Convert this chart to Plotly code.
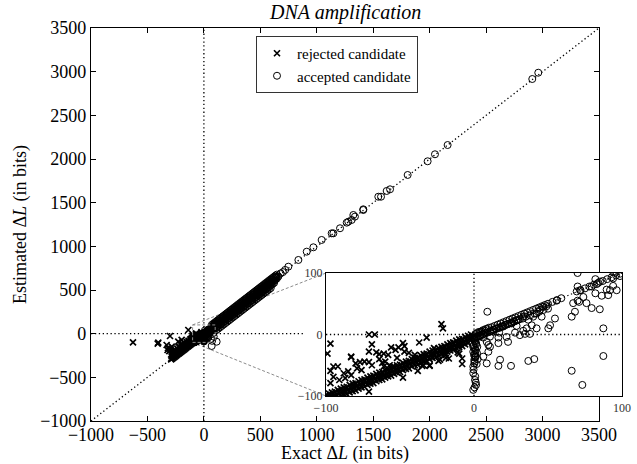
import plotly.graph_objects as go

# ---------------- data ----------------
# rejected candidates (x markers)
rej_main_x = [-628, -404, -409, -300, -138, -330, -322, -285, -227, -197, -318, -306, -296, -280, -262,
              -248, -236, -218, -205, -186, -170, -152, -135, -118, -112]
rej_main_y = [-99, -103, -115, -27, 42, -130, -187, -149, -92, -72, -165, -200, -178, -210, -196,
              -225, -170, -150, -175, -140, -125, -118, -95, -80, -60]

# dense diagonal band of rejected candidates, x < -100
rej_b1_x = [-290, -282, -274, -266, -258, -250, -242, -234, -226, -218, -210, -202, -194, -186, -178,
            -170, -162, -154, -146, -138, -130, -122, -114, -106]
rej_b1_y = [-294, -286, -278, -270, -262, -254, -246, -238, -230, -222, -214, -206, -198, -190, -182,
            -174, -166, -158, -150, -142, -134, -126, -118, -110]
rej_b2_x = [-286, -278, -270, -262, -254, -246, -238, -230, -222, -214, -206, -198, -190, -182, -174,
            -166, -158, -150, -142, -134, -126, -118, -110, -102]
rej_b2_y = [-261, -253, -245, -237, -229, -221, -213, -205, -197, -189, -181, -173, -165, -157, -149,
            -141, -133, -125, -117, -109, -101, -93, -85, -77]
rej_b3_x = [-280, -264, -248, -232, -216, -200, -184, -168, -152, -136, -120, -104]
rej_b3_y = [-225, -209, -193, -177, -161, -145, -129, -113, -97, -81, -65, -49]

# dense diagonal band of rejected candidates, -100 < x < 0
rej_ba_x = [-100, -98, -96, -94, -92, -90, -88, -86, -84, -82, -80, -78, -76, -74, -72, -70, -68, -66,
            -64, -62, -60, -58, -56, -54, -52, -50, -48, -46, -44, -42, -40, -38, -36, -34, -32, -30,
            -28, -26, -24, -22, -20, -18, -16, -14, -12, -10, -8, -6, -4, -2]
rej_ba_y = [-98, -96, -94, -93, -90, -88, -86, -85, -82, -80, -79, -76, -74, -73, -70, -68, -67, -64,
            -62, -61, -58, -56, -55, -52, -50, -49, -46, -44, -43, -40, -38, -37, -34, -32, -31, -28,
            -26, -25, -22, -20, -19, -16, -14, -13, -10, -8, -7, -4, -2, 0]
rej_bb_x = [-99, -97, -95, -93, -91, -89, -87, -85, -83, -81, -79, -77, -75, -73, -71, -69, -67, -65,
            -63, -61, -59, -57, -55, -53, -51, -49, -47, -45, -43, -41, -39, -37, -35, -33, -31, -29,
            -27, -25, -23, -21, -19, -17, -15, -13, -11, -9, -7, -5, -3, -1]
rej_bb_y = [-104, -102, -100, -98, -96, -94, -92, -90, -88, -86, -84, -82, -80, -78, -76, -74, -72, -70,
            -68, -66, -64, -62, -60, -58, -56, -54, -52, -50, -48, -46, -44, -42, -40, -38, -36, -34,
            -32, -30, -28, -26, -24, -22, -20, -18, -16, -14, -12, -10, -8, -5]
rej_bc_x = [-90, -88, -86, -84, -82, -80, -78, -76, -74, -72, -70, -68, -66, -64, -62, -60, -58, -56,
            -54, -52, -50, -48, -46, -44, -42, -40, -38, -36, -34, -32, -30, -28, -26, -24, -22, -20,
            -18, -16, -14, -12, -10, -8, -6, -4]
rej_bc_y = [-100, -98, -97, -94, -92, -91, -88, -86, -85, -82, -80, -79, -76, -74, -73, -70, -68, -67,
            -64, -62, -61, -58, -56, -55, -52, -50, -49, -46, -44, -43, -40, -38, -37, -34, -32, -31,
            -28, -26, -25, -22, -20, -19, -16, -14]

rej_inset_x = [-97, -99, -97, -95, -97, -92, -83, -79, -85, -80, -77, -74, -71, -83, -87, -71, -67, -69,
               -66, -64, -61, -64, -60, -58, -56, -53, -51, -48, -47, -47, -61, -57, -55, -48, -71, -40,
               -37, -32, -38, -34, -30, -23, -22, -21, -20, -19, -19, -17, -14, -11, -10, -8, -8, -10,
               -95, -83, -71, -24, -30, -35, -91, -88, -76, -69, -62, -52, -44, -27]
rej_inset_y = [-15, -31, -59, -69, -79, -52, -36, -55, -60, -47, -45, -44, -45, -66, -71, 0, 0, -16,
               -29, -32, -31, -40, -44, -33, -21, -25, -21, -14, -19, -28, -52, -50, -52, -70, -93, -33,
               -13, -5, -59, -50, -50, -41, 17, 10, -29, -33, -38, -39, -13, -29, -31, -39, -48, -17,
               -52, -37, -28, -43, -51, -51, -74, -63, -58, -50, -46, -38, -30, -22]

# accepted candidates (open circles)
acc_main_x = [748, 837, 911, 970, 1043, 1132, 1147, 1206, 1265, 1279, 1309, 1324, 1338, 1412, 1412,
              1545, 1569, 1619, 1649, 1805, 1982, 2047, 2159, 2909, 2962, 69, 113, 660, 680, 700, 720, 640]
acc_main_y = [767, 844, 939, 989, 1073, 1149, 1149, 1207, 1271, 1282, 1302, 1359, 1340, 1416, 1424,
              1568, 1568, 1634, 1653, 1817, 1974, 2054, 2160, 2916, 2988, -141, -92, 655, 690, 705, 730, 645]

# dense diagonal band of accepted candidates, x > 70
acc_bx = [70, 82, 94, 106, 118, 130, 142, 154, 166, 178, 190, 202, 214, 226, 238, 250, 262, 274, 286,
          298, 310, 322, 334, 346, 358, 370, 382, 394, 406, 418, 430, 442, 454, 466, 478, 490, 502, 514,
          526, 538, 550, 562, 574, 586, 598, 610, 622, 634, 646]
acc_b1_y = [100, 112, 124, 136, 148, 160, 172, 184, 196, 208, 220, 232, 244, 256, 268, 280, 292, 304, 316,
            328, 340, 352, 364, 376, 388, 400, 412, 424, 436, 448, 460, 472, 484, 496, 508, 520, 532, 544,
            556, 568, 580, 592, 604, 616, 628, 640, 652, 664, 676]
acc_b2_y = [78, 90, 102, 114, 126, 138, 150, 162, 174, 186, 198, 210, 222, 234, 246, 258, 270, 282, 294,
            306, 318, 330, 342, 354, 366, 378, 390, 402, 414, 426, 438, 450, 462, 474, 486, 498, 510, 522,
            534, 546, 558, 570, 582, 594, 606, 618, 630, 642, 654]
acc_b3_y = [55, 67, 79, 91, 103, 115, 127, 139, 151, 163, 175, 187, 199, 211, 223, 235, 247, 259, 271,
            283, 295, 307, 319, 331, 343, 355, 367, 379, 391, 403, 415, 427, 439, 451, 463, 475, 487, 499,
            511, 523, 535, 547, 559, 571, 583, 595, 607, 619, 631]
acc_b4_x = [106, 118, 130, 142, 154, 166, 178, 190, 202, 214, 226, 238, 250, 262, 274, 286, 298, 310,
            322, 334, 346, 358, 370, 382, 394, 406, 418, 430, 442, 454, 466, 478, 490, 502, 514, 526,
            538, 550, 562, 574, 586, 598, 610, 622]
acc_b4_y = [66, 78, 90, 102, 114, 126, 138, 150, 162, 174, 186, 198, 210, 222, 234, 246, 258, 270,
            282, 294, 306, 318, 330, 342, 354, 366, 378, 390, 402, 414, 426, 438, 450, 462, 474, 486,
            498, 510, 522, 534, 546, 558, 570, 582]
acc_b5_x = [112, 128, 144, 160, 176, 192, 208, 224, 240, 256, 272, 288, 304, 320, 336, 352, 368, 384,
            400, 416, 432, 448, 464, 480, 496, 512, 528, 544, 560, 576, 592]
acc_b5_y = [42, 58, 74, 90, 106, 122, 138, 154, 170, 186, 202, 218, 234, 250, 266, 282, 298, 314,
            330, 346, 362, 378, 394, 410, 426, 442, 458, 474, 490, 506, 522]

# accepted candidates inside the zoomed region
acc_diag_x = [1, 2, 3, 4, 5, 6, 7, 8, 9, 10, 12, 14, 16, 18, 20, 22, 24, 26, 28, 30, 32, 34, 36, 38, 40,
              42, 44, 46, 48, 50, 53, 56, 59, 72, 75, 78, 81, 84, 87, 90, 93, 96, 99,
              2, 4, 6, 8, 11, 13, 15, 17, 19, 21, 23, 25, 27, 29, 31, 33, 35, 38, 41, 44, 47, 50,
              0, 1.5, 3, 4.5, 6, 7.5, 9, 10.5, 12, 13.5, 15, 16.5, 18, 19.5, 21, 22.5, 24, 25.5, 27,
              28.5, 30]
acc_diag_y = [1, 2, 4, 4, 5, 7, 7, 9, 9, 11, 12, 14, 16, 18, 20, 22, 24, 26, 28, 30, 32, 34, 36, 38, 40,
              42, 44, 46, 48, 50, 53, 56, 59, 72, 75, 78, 81, 84, 87, 90, 93, 96, 99,
              -3, -1, 1, 3, 5, 8, 10, 11, 13, 16, 17, 19, 21, 23, 25, 26, 29, 31, 34, 37, 40, 42,
              -6, -4.5, -3, -1.5, 0, 1.5, 3, 4.5, 6, 7.5, 9, 10.5, 12, 13.5, 15, 16.5, 18, 19.5, 21,
              22.5, 24]

acc_vert_x = [-0.5, 1.4, 0.7, -0.5, -0.5, 0.2, 0.7, -0.5, 1.4, 0.7, 0, 0.5, 1, 0.3, -0.3, 0.8, 1.2, 0.4,
              0.2, 0.8, 1.5, -0.3, 0.5, 1.2, 2, 0, 1, 2.5, 0.3, 1.8, -0.5, 1, 2.2, 0.5]
acc_vert_y = [-90, -82, -74, -63, -52, -41, -31, -20, -14, -25, -5, -10, -35, -47, -57, -68, -78, -86,
              -8, -12, -16, -18, -22, -26, -30, -33, -37, -40, -44, -48, -28, -6, -20, -36]

acc_inset_x = [9, 8.6, 9.7, 10.8, 8.6, 16.5, 25, 36.7, 40.7, 23, 16.5, 17, 27.7, 34.5, 37.8, 35.6, 39,
               36.7, 40, 44.6, 46.8, 42.3, 50.2, 51.4, 54.7, 49, 55.9, 66, 68.2, 67, 71, 73.9, 76, 79.5,
               85, 87.4, 87.4, 66, 73.2, 69.4, 71.6, 79.5, 82.9, 85.1, 89.6, 91.9, 96.4, 90.7, 86.3, 94,
               98.6, 16.5, 22, 31, 33.3, 28.8, 25.5, 19.8, 13, 6.3, 10.8, 42.3, 45.7, 33.3, 17.6, 6.3,
               9.7, 4]
acc_inset_y = [37, -47, -28, -20, -12, -51, -51, -43, -40, -12, -5, 3, 3, 1, 1, 10, 15, 24, 29, 40, 45,
               34, 10, 15, 26, 46, 55, 29, 37, 51, 53, 61, 51, 43, 41, 10, -35, -59, -82, 70, 72, 78, 82,
               86, 73, 72, 72, 64, 63, 91, 95, -14, -4, -1, 6, 14, 18, 13, 4.5, -5, -3.5, 10, 29, 29,
               -41, -36, -17, -3.5]

rej_x = (rej_main_x + rej_b1_x + rej_b2_x + rej_b3_x + rej_ba_x + rej_bb_x + rej_bc_x + rej_inset_x)
rej_y = (rej_main_y + rej_b1_y + rej_b2_y + rej_b3_y + rej_ba_y + rej_bb_y + rej_bc_y + rej_inset_y)
acc_x = (acc_main_x + acc_bx + acc_bx + acc_bx + acc_b4_x + acc_b5_x + acc_diag_x + acc_vert_x
         + acc_inset_x)
acc_y = (acc_main_y + acc_b1_y + acc_b2_y + acc_b3_y + acc_b4_y + acc_b5_y + acc_diag_y + acc_vert_y
         + acc_inset_y)

main_range = [-1000, 3500]
inset_range = [-100, 100]
main_ticks = [-1000, -500, 0, 500, 1000, 1500, 2000, 2500, 3000, 3500]
inset_ticks = [-100, 0, 100]

title_text = "<i>DNA amplification</i>"
xlabel = "Exact Δ<i>L</i> (in bits)"
ylabel = "Estimated Δ<i>L</i> (in bits)"

# ---------------- layout geometry ----------------
W, H = 637, 464
L, R, T, B = 91, 15, 28, 43
pw = W - L - R
ph = H - T - B
main_dom_x = [0, (599 - L) / pw]
main_dom_y = [0, 1]
inset_dom_x = [(326 - L) / pw, 1]
inset_dom_y = [(H - B - 396) / ph, (H - B - 273) / ph]

FONT = "Liberation Serif"
BLACK = "#000000"

fig = go.Figure()

dot = dict(color=BLACK, width=1.3, dash="1.3px,2.6px")


def add_set(xa, ya, show):
    rng = main_range if xa == "x" else inset_range
    fig.add_trace(go.Scatter(x=rng, y=rng, mode="lines", line=dot, showlegend=False,
                             hoverinfo="skip", xaxis=xa, yaxis=ya))
    fig.add_trace(go.Scatter(x=[0, 0], y=rng, mode="lines", line=dot, showlegend=False,
                             hoverinfo="skip", xaxis=xa, yaxis=ya))
    hx = [main_range[0], 890] if xa == "x" else inset_range
    fig.add_trace(go.Scatter(x=hx, y=[0, 0], mode="lines", line=dot, showlegend=False,
                             hoverinfo="skip", xaxis=xa, yaxis=ya))
    fig.add_trace(go.Scatter(x=rej_x, y=rej_y, mode="markers", name="rejected candidate",
                             marker=dict(symbol="x-thin", size=6, color=BLACK,
                                         line=dict(color=BLACK, width=1.7)),
                             showlegend=show, xaxis=xa, yaxis=ya, cliponaxis=True))
    fig.add_trace(go.Scatter(x=acc_x, y=acc_y, mode="markers", name="accepted candidate",
                             marker=dict(symbol="circle-open", size=7, color=BLACK,
                                         line=dict(color=BLACK, width=1)),
                             showlegend=show, xaxis=xa, yaxis=ya, cliponaxis=True))


add_set("x", "y", True)
add_set("x2", "y2", False)


def paper_to_main(px, py):
    fx = (px - main_dom_x[0]) / (main_dom_x[1] - main_dom_x[0])
    fy = (py - main_dom_y[0]) / (main_dom_y[1] - main_dom_y[0])
    return (main_range[0] + fx * (main_range[1] - main_range[0]),
            main_range[0] + fy * (main_range[1] - main_range[0]))


gray = dict(color="#8c8c8c", width=1, dash="3px,2px")
tlx, tly = paper_to_main(inset_dom_x[0], inset_dom_y[1])
blx, bly = paper_to_main(inset_dom_x[0], inset_dom_y[0])
shapes = [
    dict(type="rect", xref="x", yref="y", x0=inset_range[0], x1=inset_range[1],
         y0=inset_range[0], y1=inset_range[1], line=gray, layer="above"),
    dict(type="line", xref="x", yref="y", x0=inset_range[0], y0=inset_range[1], x1=tlx, y1=tly,
         line=gray, layer="below"),
    dict(type="line", xref="x", yref="y", x0=inset_range[0], y0=inset_range[0], x1=blx, y1=bly,
         line=gray, layer="below"),
]

axis_font = dict(family=FONT, size=18, color=BLACK)
common_main = dict(range=main_range, tickvals=main_ticks, ticks="inside", ticklen=5, tickwidth=1,
                   tickcolor=BLACK, showline=True, linecolor=BLACK, linewidth=1.2, mirror="ticks",
                   showgrid=False, zeroline=False, tickfont=axis_font, automargin=False)
common_inset = dict(range=inset_range, tickvals=inset_ticks, ticks="", showline=True,
                    linecolor=BLACK, linewidth=1.2, mirror=True, showgrid=False, zeroline=False,
                    tickfont=dict(family=FONT, size=12, color="#333333"), automargin=False)

main_cx = (main_dom_x[0] + main_dom_x[1]) / 2

fig.update_layout(
    width=W, height=H,
    margin=dict(l=L, r=R, t=T, b=B, pad=0, autoexpand=False),
    paper_bgcolor="white", plot_bgcolor="white",
    font=dict(family=FONT, color=BLACK),
    xaxis=dict(domain=main_dom_x, anchor="y", ticklabelstandoff=-3, **common_main),
    yaxis=dict(domain=main_dom_y, anchor="x",
               title=dict(text=ylabel, font=dict(family=FONT, size=18), standoff=8), **common_main),
    xaxis2=dict(domain=inset_dom_x, anchor="y2", **common_inset),
    yaxis2=dict(domain=inset_dom_y, anchor="x2", **common_inset),
    showlegend=True,
    legend=dict(x=(256 - L) / pw, y=(H - B - 36) / ph, xanchor="left", yanchor="top",
                bgcolor="white", bordercolor="#333333", borderwidth=1,
                font=dict(family=FONT, size=15, color=BLACK), tracegroupgap=0,
                itemwidth=30),
    shapes=shapes,
    annotations=[
        dict(text=title_text, xref="paper", yref="paper", x=main_cx, y=1, yshift=2,
             xanchor="center", yanchor="bottom", showarrow=False,
             font=dict(family=FONT, size=20, color=BLACK)),
        dict(text=xlabel, xref="paper", yref="paper", x=main_cx, y=(H - B - 453) / ph,
             xanchor="center", yanchor="middle", showarrow=False,
             font=dict(family=FONT, size=18, color=BLACK)),
    ],
)

# let the figure occupy the whole browser window (no default page margin)
fig.write_html("out.html", config={"displayModeBar": False},
               post_script="document.body.style.margin='0';document.body.style.overflow='hidden';")
